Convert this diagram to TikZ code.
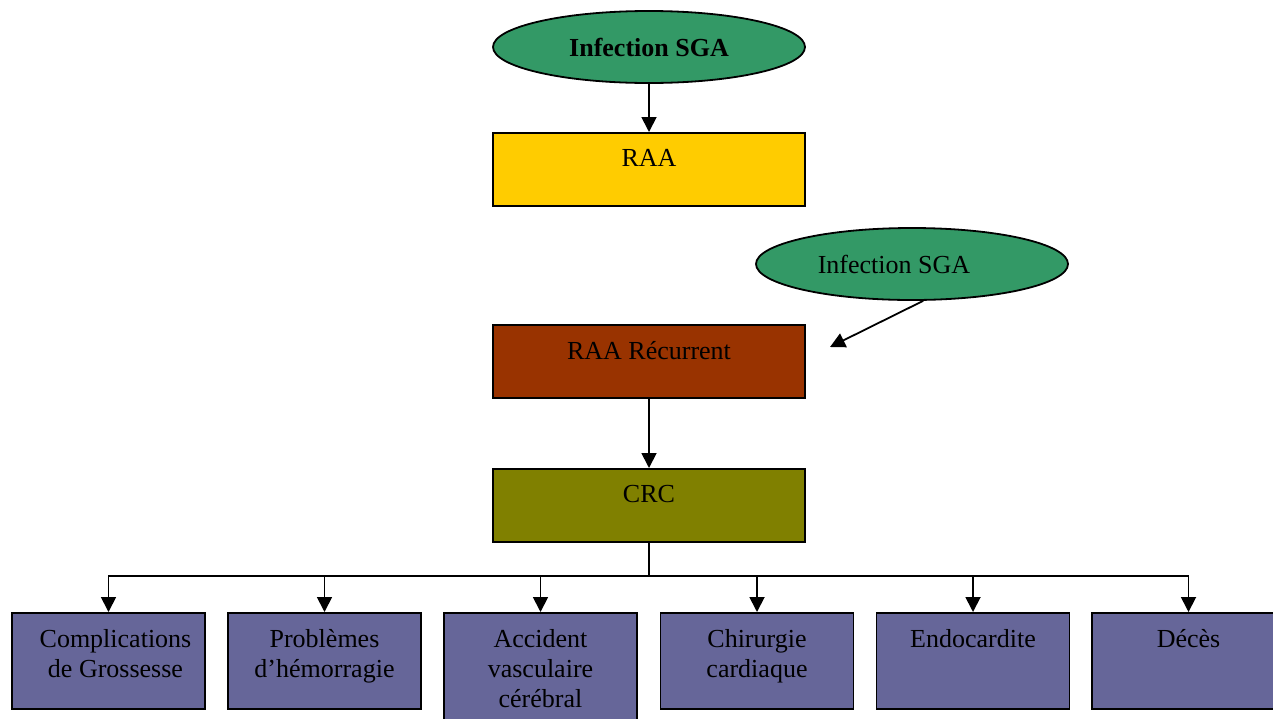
\documentclass[tikz,border=0pt]{standalone}
\usepackage{fontspec}
\setmainfont{Liberation Serif}
\usetikzlibrary{arrows.meta,shapes.geometric}
\definecolor{sgagreen}{RGB}{51,153,102}
\definecolor{raayellow}{RGB}{255,204,0}
\definecolor{recbrown}{RGB}{153,51,0}
\definecolor{crcolive}{RGB}{128,128,0}
\definecolor{outviolet}{RGB}{102,102,153}
\tikzset{
  cause/.style={ellipse,draw,line width=1.8pt,fill=sgagreen,
                minimum width=312pt,minimum height=72pt,inner sep=0pt},
  stage/.style={draw,line width=1.8pt,minimum width=312pt,
                minimum height=73pt,anchor=north,inner sep=0pt},
  outcome/.style={draw,line width=1.8pt,fill=outviolet,minimum width=193pt,
                  minimum height=96pt,anchor=north,inner sep=0pt},
  toplbl/.style={anchor=north,yshift=-17pt,inner sep=0pt,align=center},
  flow/.style={-{Triangle[length=15pt,width=15pt]},line width=1.8pt},
}

\begin{document}
\begin{tikzpicture}[x=1pt,y=-1pt,font=\fontsize{26}{30}\selectfont]
  \useasboundingbox (0,0) rectangle (1273,718);
  \clip (0,0) rectangle (1273,718);

  \node[cause,font=\fontsize{26}{30}\selectfont\bfseries] (sga1) at (649,47) {Infection SGA};
  \node[stage,fill=raayellow,label={[toplbl]north:RAA}] (raa) at (649,132) {};
  \node[cause,label={[xshift=-18pt]center:Infection SGA}] (sga2) at (912,264) {};
  \node[stage,fill=recbrown,label={[toplbl]north:RAA Récurrent}] (rec) at (649,324) {};
  \node[stage,fill=crcolive,label={[toplbl]north:CRC}] (crc) at (649,468) {};
  \coordinate (tip) at (830,347);
  \coordinate (bus) at (649,576);

  % complications
  \node[outcome,label={[toplbl,xshift=7pt]north:Complications\\de Grossesse}] (gross) at (108.5,612) {};
  \node[outcome,label={[toplbl]north:Problèmes\\d’hémorragie}] (hemo) at (324.5,612) {};
  \node[outcome,minimum height=130pt,label={[toplbl]north:Accident\\vasculaire\\cérébral}] (avc) at (540.5,612) {};
  \node[outcome,label={[toplbl]north:Chirurgie\\cardiaque}] (chir) at (757,612) {};
  \node[outcome,label={[toplbl]north:Endocardite}] (endo) at (973,612) {};
  \node[outcome,label={[toplbl]north:Décès}] (deces) at (1188.5,612) {};

  \draw[flow] (sga1) -- (raa);
  \draw[flow] (sga2.-73) -- (tip);
  \draw[flow] (rec) -- (crc);
  \foreach \b in {gross,hemo,avc,chir,endo,deces}
    \draw[flow] (crc.south) -- (bus) -| (\b.north);
\end{tikzpicture}
\end{document}
